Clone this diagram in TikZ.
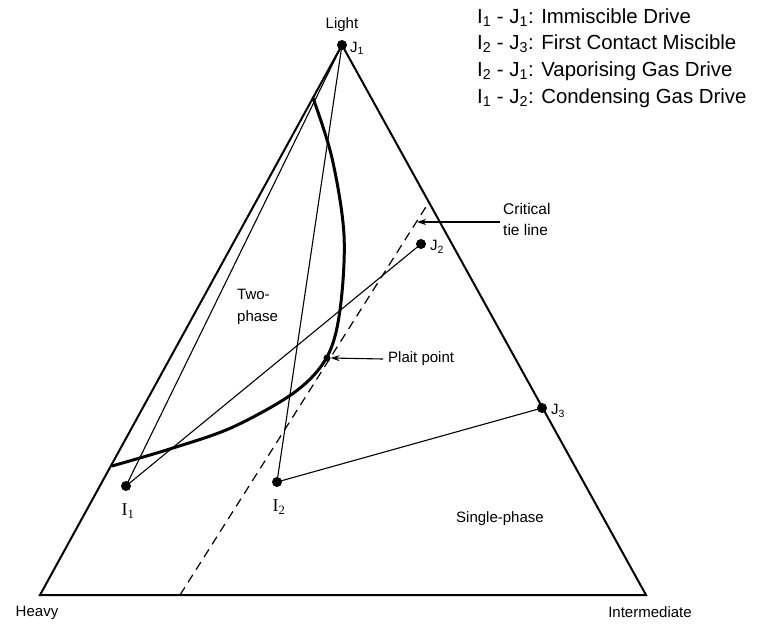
\documentclass[tikz,border=0pt]{standalone}
\usepackage{fontspec}
\setmainfont{Liberation Sans}
\newfontfamily\serifpt{Liberation Serif}
\usetikzlibrary{arrows.meta}
\begin{document}
\begin{tikzpicture}[x=1pt,y=-1pt,
  edge/.style={line width=2pt, line join=miter},
  tie/.style={line width=1.1pt},
  binodal/.style={line width=3pt, line cap=round},
  crit/.style={line width=1.2pt, dash pattern=on 9pt off 6pt},
  dot/.style={circle, fill=black, inner sep=0pt, minimum size=10pt},
  pdot/.style={circle, fill=black, inner sep=0pt, minimum size=7pt},
  lab/.style={font=\fontsize{15}{18}\selectfont, inner sep=0pt},
  ilab/.style={font=\serifpt\fontsize{18}{20}\selectfont, inner sep=0pt},
  leg/.style={font=\fontsize{20.4}{24}\selectfont, inner sep=0pt, anchor=west},
  pointer/.style={line width=1.1pt, -{Stealth[length=9pt,width=6pt]}}
]
\useasboundingbox (0,0) rectangle (761,624);
% corners and points
\coordinate (H) at (40,595);
\coordinate (M) at (646,595);
\node[dot] (J1) at (342,45) {};
\node[dot] (J2) at (421,244) {};
\node[dot] (J3) at (542,408) {};
\node[dot] (I1) at (126,486) {};
\node[dot] (I2) at (277,482) {};
\coordinate (CB) at (180,595);
\coordinate (CT) at (429,202);
\coordinate (CA) at (417,222);
% triangle
\draw[edge] (J1.center) -- (M) -- (H) -- cycle;
% tie / drive lines
\draw[tie] (I1.center) -- (J1.center);
\draw[tie] (I1.center) -- (J2.center);
\draw[tie] (I2.center) -- (J1.center);
\draw[tie] (I2.center) -- (J3.center);
% critical tie line
\draw[crit] (CB) -- (CT);
% binodal curve
\draw[binodal] plot[smooth, tension=0.55] coordinates {(313,98) (332,158) (344,235) (340,310) (327,357) (295,392) (233,427) (173,448) (112,466)};
\node[pdot] (P) at (327,358) {};
% labels
\node[lab] (light) at (342,25) {Light};
\node[lab, anchor=west] (j1l) at (350,48) {J\textsubscript{1}};
\node[lab, anchor=west] (j2l) at (430,247) {J\textsubscript{2}};
\node[lab, anchor=west] (j3l) at (551,411) {J\textsubscript{3}};
\node[ilab] (i1l) at (128,511) {I\textsubscript{1}};
\node[ilab] (i2l) at (279,507) {I\textsubscript{2}};
\node[lab] (heavy) at (37,613) {Heavy};
\node[lab] (inter) at (650,612) {Intermediate};
\node[lab, anchor=north west, align=left, font=\fontsize{15}{22}\selectfont] (two) at (237,289) {Two-\\phase};
\node[lab] (single) at (500,519) {Single-phase};
\node[lab, anchor=west] (pp) at (388,359) {Plait point};
\draw[pointer] ([xshift=-5pt]pp.west) -- (P.east);
\node[lab, anchor=north west, align=left, font=\fontsize{15.5}{21}\selectfont] (ctl) at (503,203) {Critical\\tie line};
\draw[pointer] (500,222) -- (CA);
% legend
\node[leg] (l1) at (477,18) {I\textsubscript{1} - J\textsubscript{1}: Immiscible Drive};
\node[leg] (l2) at (477,44) {I\textsubscript{2} - J\textsubscript{3}: First Contact Miscible};
\node[leg] (l3) at (477,71) {I\textsubscript{2} - J\textsubscript{1}: Vaporising Gas Drive};
\node[leg] (l4) at (477,98) {I\textsubscript{1} - J\textsubscript{2}: Condensing Gas Drive};
\end{tikzpicture}
\end{document}
